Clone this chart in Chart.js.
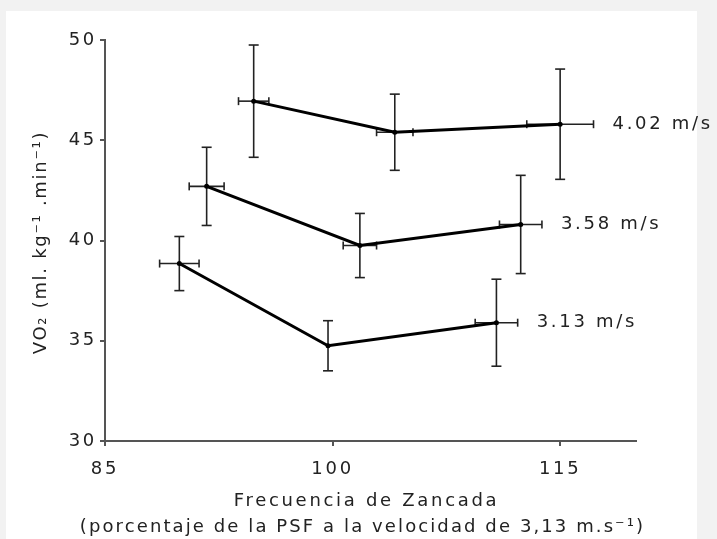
<!DOCTYPE html>
<html><head><meta charset="utf-8">
<script src="https://cdn.jsdelivr.net/npm/chart.js@4.4.0/dist/chart.umd.min.js"></script>
<style>html,body{margin:0;padding:0;background:#f2f2f2;} canvas{display:block;}</style>
</head><body>
<canvas id="c" width="717" height="539"></canvas>
<script>
// ---- data ----
const seriesNames = ['4.02 m/s', '3.58 m/s', '3.13 m/s'];
const x402 = [94.8, 104.1, 115.0];
const y402 = [46.95, 45.4, 45.8];
const yErr402 = [2.8, 1.9, 2.75];
const xErr402 = [1.0, 1.2, 2.2];

const x358 = [91.7, 101.8, 112.4];
const y358 = [42.7, 39.75, 40.8];
const yErr358 = [1.95, 1.6, 2.45];
const xErr358 = [1.15, 1.1, 1.4];

const x313 = [89.9, 99.7, 110.8];
const y313 = [38.85, 34.75, 35.9];
const yErr313 = [1.35, 1.25, 2.17];
const xErr313 = [1.3, 0, 1.4];

const xTicks = [85, 100, 115];
const yTicks = [30, 35, 40, 45, 50];
const xTitle = ['Frecuencia de Zancada', '(porcentaje de la PSF a la velocidad de 3,13 m.s\u207B\u00B9)'];
const yTitle = 'VO\u2082 (ml. kg\u207B\u00B9 .min\u207B\u00B9)';

function pts(xs, ys, ye, xe) {
  return xs.map((v, i) => ({x: v, y: ys[i], ye: ye[i], xe: xe[i]}));
}
const allSeries = [
  pts(x402, y402, yErr402, xErr402),
  pts(x358, y358, yErr358, xErr358),
  pts(x313, y313, yErr313, xErr313)
];

const FAMILY = '"DejaVu Sans", Verdana, sans-serif';
Chart.defaults.font.family = FAMILY;
const LS = '2.7px';
const TXT = '#222';
const spacing = {
  id: 'spacing',
  beforeUpdate(c) { c.ctx.letterSpacing = LS; },
  beforeLayout(c) { c.ctx.letterSpacing = LS; },
  beforeDraw(c) { c.ctx.letterSpacing = LS; }
};
const bg = {
  id: 'bg',
  beforeDraw(c) {
    const ctx = c.ctx;
    ctx.save();
    ctx.fillStyle = '#f2f2f2';
    ctx.fillRect(0, 0, c.width, c.height);
    ctx.fillStyle = '#ffffff';
    ctx.fillRect(6, 11, 691, 528);
    ctx.restore();
  }
};
function seg(ctx, a, b, c2, d) { ctx.beginPath(); ctx.moveTo(a, b); ctx.lineTo(c2, d); ctx.stroke(); }
const errBars = {
  id: 'errBars',
  beforeDatasetsDraw(c) {
    const {ctx} = c; const xs = c.scales.x, ys = c.scales.y;
    ctx.save();
    ctx.strokeStyle = '#222';
    ctx.lineWidth = 1.6;
    c.data.datasets.forEach(ds => {
      ds.data.forEach(p => {
        const px = xs.getPixelForValue(p.x), py = ys.getPixelForValue(p.y);
        const yt = ys.getPixelForValue(p.y + p.ye), yb = ys.getPixelForValue(p.y - p.ye);
        seg(ctx, px, yt, px, yb);
        seg(ctx, px - 5, yt, px + 5, yt);
        seg(ctx, px - 5, yb, px + 5, yb);
        if (p.xe > 0) {
          const xl = xs.getPixelForValue(p.x - p.xe), xr = xs.getPixelForValue(p.x + p.xe);
          seg(ctx, xl, py, xr, py);
          seg(ctx, xl, py - 4, xl, py + 4);
          seg(ctx, xr, py - 4, xr, py + 4);
        }
      });
    });
    ctx.restore();
  }
};
const texts = {
  id: 'texts',
  afterDatasetsDraw(c) {
    const {ctx} = c; const xs = c.scales.x, ys = c.scales.y;
    ctx.save();
    ctx.letterSpacing = LS;
    ctx.font = '18px ' + FAMILY;
    ctx.fillStyle = TXT;
    ctx.textAlign = 'left';
    ctx.textBaseline = 'middle';
    c.data.datasets.forEach(ds => {
      const p = ds.data[ds.data.length - 1];
      const xr = xs.getPixelForValue(p.x + p.xe);
      ctx.fillText(ds.label, xr + 19, ys.getPixelForValue(p.y));
    });
    // x axis title (two lines, centred under the plot)
    ctx.textAlign = 'center';
    const cx = (c.chartArea.left + c.chartArea.right) / 2 - 4;
    ctx.fillText(xTitle[0], cx, xs.bottom - 38);
    ctx.letterSpacing = '2.1px';
    ctx.fillText(xTitle[1], cx - 4, xs.bottom - 12);
    // y axis title, rotated
    ctx.letterSpacing = '1.7px';
    ctx.translate(41, (c.chartArea.top + c.chartArea.bottom) / 2 + 2);
    ctx.rotate(-Math.PI / 2);
    ctx.fillText(yTitle, 0, 0);
    ctx.restore();
  }
};

new Chart(document.getElementById('c'), {
  type: 'scatter',
  data: {
    datasets: allSeries.map((d, i) => ({
      label: seriesNames[i],
      data: d,
      showLine: true,
      borderColor: '#000',
      borderWidth: 3,
      backgroundColor: '#000',
      pointRadius: 2.5,
      pointBorderWidth: 0,
      tension: 0
    }))
  },
  options: {
    responsive: false,
    animation: false,
    events: [],
    layout: {padding: {top: 40, right: 81, left: 0, bottom: 0}},
    plugins: {legend: {display: false}, tooltip: {enabled: false}},
    scales: {
      x: {
        type: 'linear', min: 85, max: 120,
        afterBuildTicks(s) { s.ticks = xTicks.map(v => ({value: v})); },
        afterFit(s) { s.height = 98; },
        border: {display: true, color: '#555', width: 2},
        grid: {drawOnChartArea: false, drawTicks: true, tickLength: 5, color: '#555', lineWidth: 2},
        ticks: {color: TXT, font: {size: 18}, padding: 13, maxRotation: 0, autoSkip: false},
        title: {display: false}
      },
      y: {
        type: 'linear', min: 30, max: 50,
        afterBuildTicks(s) { s.ticks = yTicks.map(v => ({value: v})); },
        afterFit(s) { s.width = 105; },
        border: {display: true, color: '#555', width: 2},
        grid: {drawOnChartArea: false, drawTicks: true, tickLength: 5, color: '#555', lineWidth: 2},
        ticks: {color: TXT, font: {size: 18}, padding: 3, autoSkip: false},
        title: {display: false}
      }
    }
  },
  plugins: [bg, spacing, errBars, texts]
});
</script>
</body></html>
